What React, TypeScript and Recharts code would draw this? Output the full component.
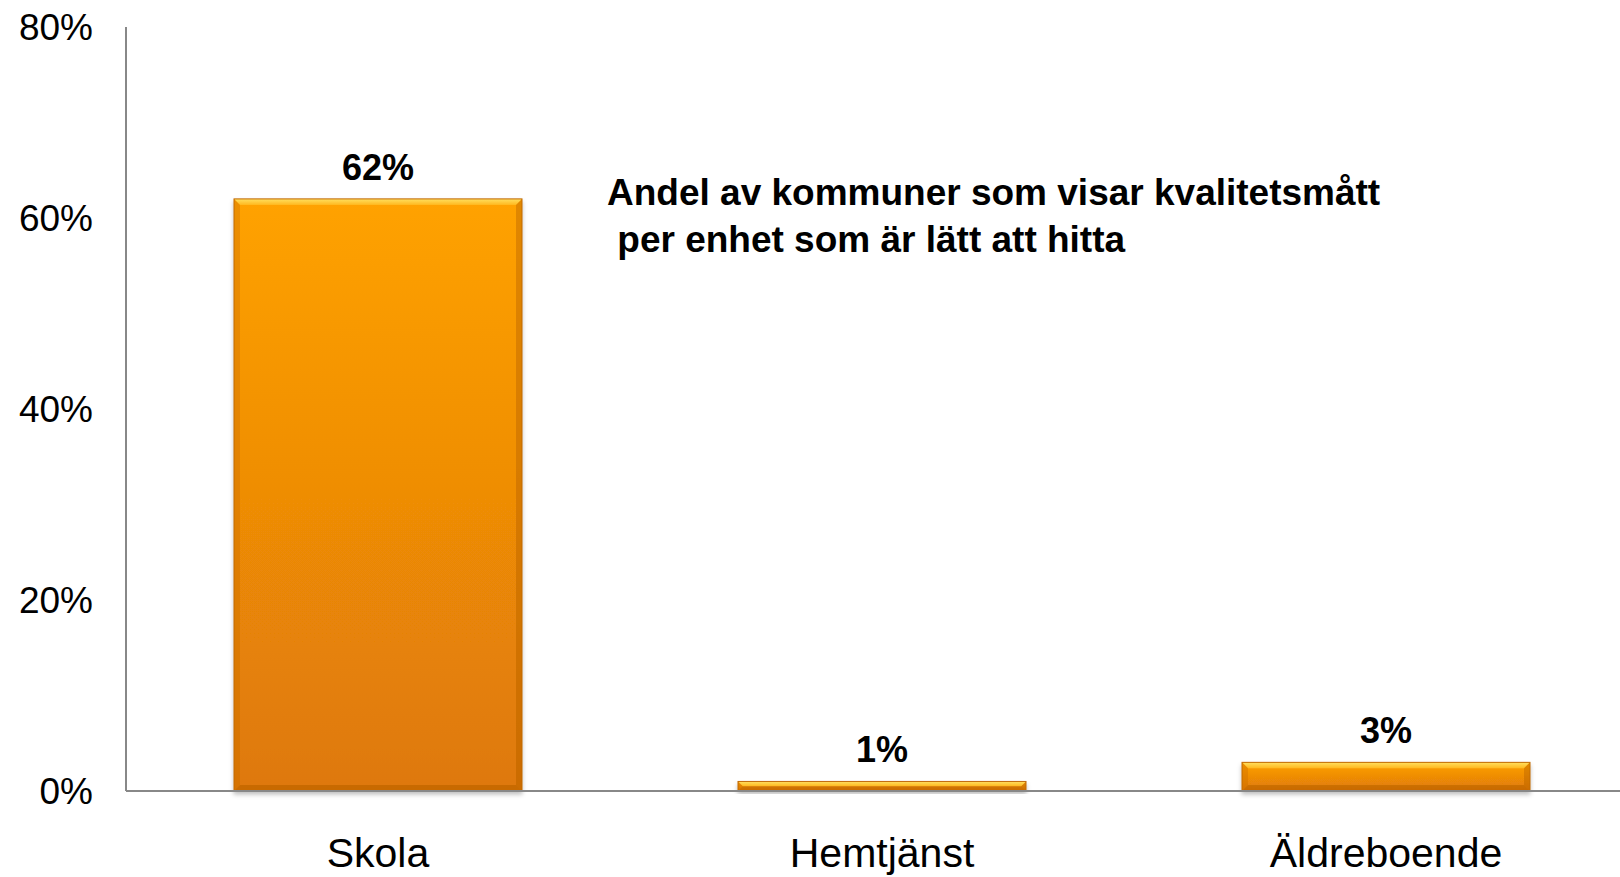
import { Bar, BarChart, LabelList, XAxis, YAxis } from "recharts"

const categories = ["Skola", "Hemtjänst", "Äldreboende"]
const shares = [62, 1, 3]
const yTicks = [0, 20, 40, 60, 80]
const titleLines = ["Andel av kommuner som visar kvalitetsmått", " per enhet som är lätt att hitta"]

const data = categories.map((name, i) => ({ name, value: shares[i] }))

const font = "Arial, 'Liberation Sans', sans-serif"
const axisColor = "#888888"

// bar with a soft bevel like the office chart style
const BevelBar = (props: any) => {
  const { x, y, width, height } = props
  if (!height || height <= 0) return null
  const b = Math.min(6, height / 2)
  return (
    <g filter="url(#barShadow)">
      <rect x={x} y={y} width={width} height={height} fill="url(#barFill)" />
      <polygon
        points={`${x},${y} ${x + width},${y} ${x + width - b},${y + b} ${x + b},${y + b}`}
        fill="url(#bevelTop)"
      />
      <polygon
        points={`${x},${y} ${x + b},${y + b} ${x + b},${y + height - b} ${x},${y + height}`}
        fill="#C96A00"
        opacity={0.35}
      />
      <polygon
        points={`${x + width},${y} ${x + width - b},${y + b} ${x + width - b},${y + height - b} ${x + width},${y + height}`}
        fill="#A85500"
        opacity={0.35}
      />
      <polygon
        points={`${x},${y + height} ${x + b},${y + height - b} ${x + width - b},${y + height - b} ${x + width},${y + height}`}
        fill="#A85500"
        opacity={0.4}
      />
      <rect x={x} y={y} width={width} height={height} fill="none" stroke="#C06A08" strokeWidth={1} />
    </g>
  )
}

export default function App() {
  return (
    <div
      style={{
        position: "absolute",
        left: 0,
        top: 0,
        width: 1620,
        height: 877,
        overflow: "hidden",
        background: "#fff",
        fontFamily: font,
      }}
    >
      <BarChart
        width={1638}
        height={877}
        data={data}
        margin={{ top: 27, right: 0, left: 0, bottom: 0 }}
        barCategoryGap={0}
      >
        <defs>
          <linearGradient id="barFill" x1="0" y1="0" x2="0" y2="1">
            <stop offset="0%" stopColor="#FFA204" />
            <stop offset="100%" stopColor="#DE7808" />
          </linearGradient>
          <linearGradient id="bevelTop" x1="0" y1="0" x2="0" y2="1">
            <stop offset="0%" stopColor="#FFE060" />
            <stop offset="100%" stopColor="#FFB81E" />
          </linearGradient>
          <filter id="barShadow" x="-5%" y="-5%" width="110%" height="130%">
            <feDropShadow dx="0" dy="3" stdDeviation="2" floodColor="#000" floodOpacity="0.25" />
          </filter>
        </defs>
        <XAxis
          dataKey="name"
          height={86}
          axisLine={{ stroke: axisColor, strokeWidth: 2 }}
          tickLine={false}
          tickSize={0}
          tickMargin={47}
          tick={{ fill: "#000", fontSize: 41, fontFamily: font }}
          interval={0}
        />
        <YAxis
          width={126}
          domain={[0, 80]}
          ticks={yTicks}
          tickFormatter={(v: number) => `${v}%`}
          axisLine={{ stroke: axisColor, strokeWidth: 2 }}
          tickLine={false}
          tickSize={0}
          tickMargin={33}
          tick={{ fill: "#000", fontSize: 37, fontFamily: font }}
        />
        <Bar dataKey="value" barSize={288} shape={BevelBar} isAnimationActive={false}>
          <LabelList
            dataKey="value"
            position="top"
            offset={19}
            formatter={(v: number) => `${v}%`}
            style={{ fill: "#000", fontSize: 36, fontWeight: "bold", fontFamily: font }}
          />
        </Bar>
      </BarChart>
      <div
        style={{
          position: "absolute",
          left: 607,
          top: 169,
          fontSize: 37,
          lineHeight: "47px",
          fontWeight: "bold",
          color: "#000",
          whiteSpace: "pre",
        }}
      >
        {titleLines.map((line) => (
          <div key={line}>{line}</div>
        ))}
      </div>
    </div>
  )
}
